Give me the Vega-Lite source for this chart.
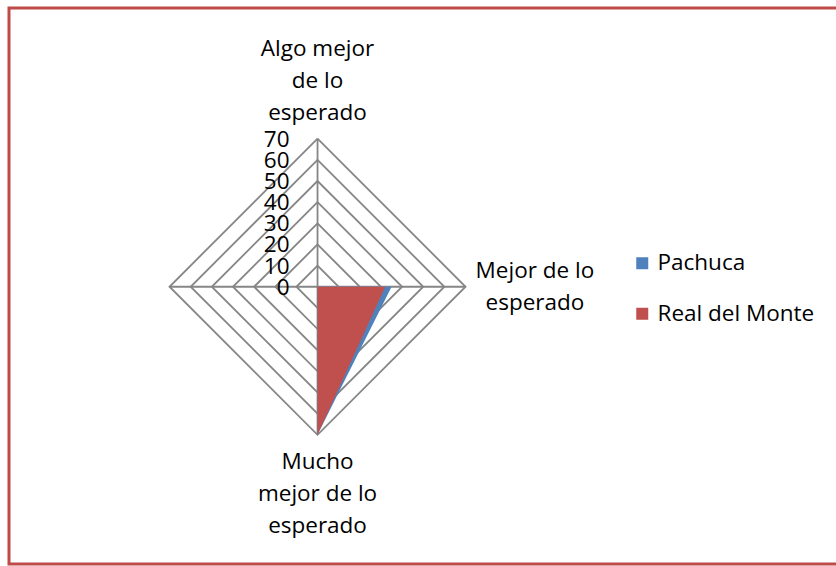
{
  "$schema": "https://vega.github.io/schema/vega-lite/v6.json",
  "width": 830,
  "height": 556,
  "autosize": {"type": "none"},
  "padding": {"left": 9, "top": 8, "right": -3, "bottom": 2},
  "background": "white",
  "config": {
    "view": {"stroke": "#BE4B48", "strokeWidth": 3},
    "font": "Open Sans",
    "text": {"font": "Open Sans"}
  },
  "datasets": {
    "series": [
      {"series": "Pachuca", "category": "Algo mejor de lo esperado", "order": 0, "value": 0},
      {"series": "Pachuca", "category": "Mejor de lo esperado", "order": 1, "value": 35},
      {"series": "Pachuca", "category": "Mucho mejor de lo esperado", "order": 2, "value": 70},
      {"series": "Pachuca", "category": "", "order": 3, "value": 0},
      {"series": "Real del Monte", "category": "Algo mejor de lo esperado", "order": 0, "value": 0},
      {"series": "Real del Monte", "category": "Mejor de lo esperado", "order": 1, "value": 32},
      {"series": "Real del Monte", "category": "Mucho mejor de lo esperado", "order": 2, "value": 70},
      {"series": "Real del Monte", "category": "", "order": 3, "value": 0}
    ],
    "grid": [
      {"level": 10, "order": 0}, {"level": 10, "order": 1}, {"level": 10, "order": 2}, {"level": 10, "order": 3}, {"level": 10, "order": 4},
      {"level": 20, "order": 0}, {"level": 20, "order": 1}, {"level": 20, "order": 2}, {"level": 20, "order": 3}, {"level": 20, "order": 4},
      {"level": 30, "order": 0}, {"level": 30, "order": 1}, {"level": 30, "order": 2}, {"level": 30, "order": 3}, {"level": 30, "order": 4},
      {"level": 40, "order": 0}, {"level": 40, "order": 1}, {"level": 40, "order": 2}, {"level": 40, "order": 3}, {"level": 40, "order": 4},
      {"level": 50, "order": 0}, {"level": 50, "order": 1}, {"level": 50, "order": 2}, {"level": 50, "order": 3}, {"level": 50, "order": 4},
      {"level": 60, "order": 0}, {"level": 60, "order": 1}, {"level": 60, "order": 2}, {"level": 60, "order": 3}, {"level": 60, "order": 4},
      {"level": 70, "order": 0}, {"level": 70, "order": 1}, {"level": 70, "order": 2}, {"level": 70, "order": 3}, {"level": 70, "order": 4}
    ],
    "spokes": [
      {"spoke": "vertical", "order": 0, "level": 70}, {"spoke": "vertical", "order": 2, "level": 70},
      {"spoke": "horizontal", "order": 1, "level": 70}, {"spoke": "horizontal", "order": 3, "level": 70}
    ],
    "ticks": [
      {"tick": 0}, {"tick": 10}, {"tick": 20}, {"tick": 30}, {"tick": 40}, {"tick": 50}, {"tick": 60}, {"tick": 70}
    ],
    "labels": [
      {"label": "Algo mejor\nde lo\nesperado", "order": 0},
      {"label": "Mejor de lo\nesperado", "order": 1},
      {"label": "Mucho\nmejor de lo\nesperado", "order": 2}
    ]
  },
  "layer": [
    {
      "data": {"name": "grid"},
      "transform": [
        {"calculate": "datum.level * sin(datum.order * PI / 2)", "as": "px"},
        {"calculate": "datum.level * cos(datum.order * PI / 2)", "as": "py"}
      ],
      "mark": {"type": "line", "stroke": "#868686", "strokeWidth": 1.8},
      "encoding": {
        "x": {"field": "px", "type": "quantitative", "scale": {"domain": [-145.9, 246.6], "nice": false, "zero": false}, "axis": null},
        "y": {"field": "py", "type": "quantitative", "scale": {"domain": [-131.1, 131.8], "nice": false, "zero": false}, "axis": null},
        "detail": {"field": "level", "type": "nominal"},
        "order": {"field": "order", "type": "quantitative"}
      }
    },
    {
      "data": {"name": "spokes"},
      "transform": [
        {"calculate": "datum.level * sin(datum.order * PI / 2)", "as": "px"},
        {"calculate": "datum.level * cos(datum.order * PI / 2)", "as": "py"}
      ],
      "mark": {"type": "line", "stroke": "#868686", "strokeWidth": 1.8},
      "encoding": {
        "x": {"field": "px", "type": "quantitative"},
        "y": {"field": "py", "type": "quantitative"},
        "detail": {"field": "spoke", "type": "nominal"},
        "order": {"field": "order", "type": "quantitative"}
      }
    },
    {
      "data": {"name": "series"},
      "transform": [
        {"calculate": "datum.value * sin(datum.order * PI / 2)", "as": "px"},
        {"calculate": "datum.value * cos(datum.order * PI / 2)", "as": "py"}
      ],
      "mark": {"type": "line", "filled": true, "strokeWidth": 0},
      "encoding": {
        "x": {"field": "px", "type": "quantitative"},
        "y": {"field": "py", "type": "quantitative"},
        "order": {"field": "order", "type": "quantitative"},
        "color": {
          "field": "series",
          "type": "nominal",
          "scale": {"domain": ["Pachuca", "Real del Monte"], "range": ["#4F81BD", "#C0504D"]},
          "legend": {
            "title": null,
            "orient": "none",
            "legendX": 622,
            "legendY": 244,
            "symbolType": "square",
            "symbolSize": 144,
            "symbolStrokeWidth": 0,
            "labelFontSize": 22.5,
            "labelFont": "Open Sans",
            "labelColor": "#000000",
            "labelOffset": 4,
            "rowPadding": 27.5,
            "padding": 0
          }
        }
      }
    },
    {
      "data": {"name": "ticks"},
      "transform": [
        {"calculate": "datum.tick * 0", "as": "px"}
      ],
      "mark": {"type": "text", "align": "right", "baseline": "middle", "dx": -28, "dy": 1, "fontSize": 22.5, "color": "#000000"},
      "encoding": {
        "x": {"field": "px", "type": "quantitative"},
        "y": {"field": "tick", "type": "quantitative"},
        "text": {"field": "tick", "type": "quantitative"}
      }
    },
    {
      "data": {"name": "labels"},
      "transform": [
        {"calculate": "datum.order == 0 ? 109 : datum.order == 1 ? 102.8 : 86", "as": "r"},
        {"calculate": "datum.r * sin(datum.order * PI / 2)", "as": "px"},
        {"calculate": "datum.r * cos(datum.order * PI / 2) + (datum.order == 1 ? 4.3 : 0)", "as": "py"}
      ],
      "mark": {"type": "text", "align": "center", "baseline": "alphabetic", "lineBreak": "\n", "lineHeight": 32, "fontSize": 22.5, "color": "#000000"},
      "encoding": {
        "x": {"field": "px", "type": "quantitative"},
        "y": {"field": "py", "type": "quantitative"},
        "text": {"field": "label", "type": "nominal"}
      }
    }
  ]
}
